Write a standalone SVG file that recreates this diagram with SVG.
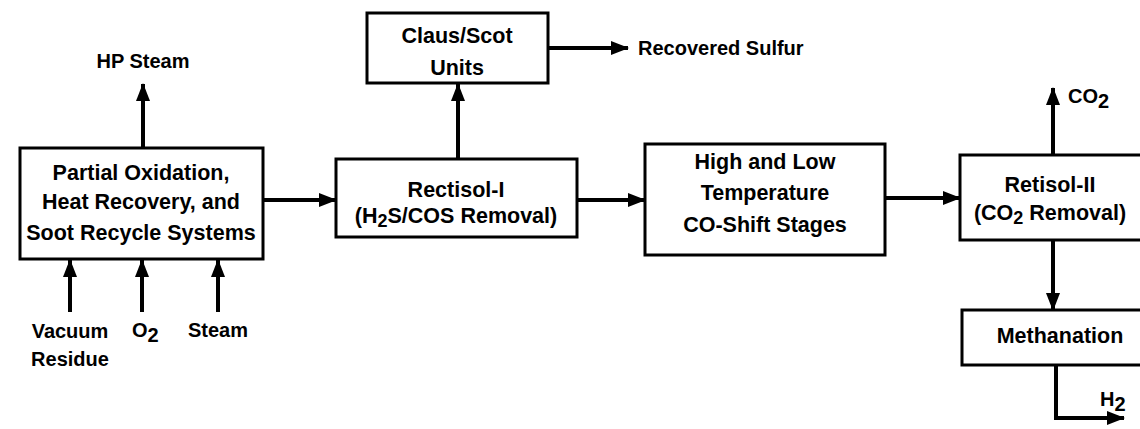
<svg xmlns="http://www.w3.org/2000/svg" width="1140" height="429" viewBox="0 0 1140 429">
<style>
.box{fill:#fff;stroke:#000;stroke-width:3}
.t{font-family:"Liberation Sans",Arial,sans-serif;font-weight:bold;font-size:21.5px;fill:#000;text-anchor:middle}
.l{font-family:"Liberation Sans",Arial,sans-serif;font-weight:bold;font-size:20px;fill:#000}
.c{stroke:#000;stroke-width:4;fill:none;marker-end:url(#ah)}
</style>
<defs>
<marker id="ah" markerUnits="userSpaceOnUse" viewBox="0 0 18 14" refX="17" refY="7" markerWidth="18" markerHeight="14" orient="auto">
<path d="M0,0 L18,7 L0,14 z" fill="#000"/>
</marker>
</defs>
<rect width="1140" height="429" fill="#fff"/>
<g id="connectors">
<path class="c" d="M143,148 L143,84"/>
<path class="c" d="M70,312 L70,260"/>
<path class="c" d="M142,312 L142,260"/>
<path class="c" d="M218,312 L218,260"/>
<path class="c" d="M264,200 L336,200"/>
<path class="c" d="M458,158 L458,84"/>
<path class="c" d="M549,48 L628,48"/>
<path class="c" d="M578,200 L645,200"/>
<path class="c" d="M886,198 L960,198"/>
<path class="c" d="M1053,154 L1053,88"/>
<path class="c" d="M1053,241 L1053,310"/>
<path class="c" d="M1056,366 L1056,418 L1124,418"/>
</g>
<g id="partial-oxidation">
<rect class="box" x="20" y="148" width="243" height="111"/>
<text class="t" x="141" y="180">Partial Oxidation,</text>
<text class="t" x="141" y="209">Heat Recovery, and</text>
<text class="t" x="141" y="240">Soot Recycle Systems</text>
</g>
<g id="rectisol-1">
<rect class="box" x="336" y="159" width="241" height="78"/>
<text class="t" x="456" y="197">Rectisol-I</text>
<text class="t" x="456" y="223">(H<tspan font-size="18" dy="4">2</tspan><tspan dy="-4">S/COS Removal)</tspan></text>
</g>
<g id="claus-scot">
<rect class="box" x="367" y="13" width="181" height="70"/>
<text class="t" x="457" y="43">Claus/Scot</text>
<text class="t" x="457" y="75">Units</text>
</g>
<g id="co-shift">
<rect class="box" x="645" y="144" width="240" height="111"/>
<text class="t" x="765" y="169">High and Low</text>
<text class="t" x="765" y="200">Temperature</text>
<text class="t" x="765" y="232">CO-Shift Stages</text>
</g>
<g id="rectisol-2">
<rect class="box" x="960" y="155" width="190" height="85"/>
<text class="t" x="1050" y="192">Retisol-II</text>
<text class="t" x="1050" y="220">(CO<tspan font-size="18" dy="4">2</tspan><tspan dy="-4"> Removal)</tspan></text>
</g>
<g id="methanation">
<rect class="box" x="962" y="310" width="190" height="55"/>
<text class="t" x="1060" y="343">Methanation</text>
</g>
<g id="labels">
<text class="l" x="143" y="68" text-anchor="middle">HP Steam</text>
<text class="l" x="638" y="55">Recovered Sulfur</text>
<text class="l" x="70" y="338" text-anchor="middle">Vacuum</text>
<text class="l" x="70" y="366" text-anchor="middle">Residue</text>
<text class="l" x="132" y="337">O<tspan dy="5">2</tspan></text>
<text class="l" x="218" y="337" text-anchor="middle">Steam</text>
<text class="l" x="1068" y="103">CO<tspan dy="5">2</tspan></text>
<text class="l" x="1100" y="406">H<tspan dy="5">2</tspan></text>
</g>
</svg>
